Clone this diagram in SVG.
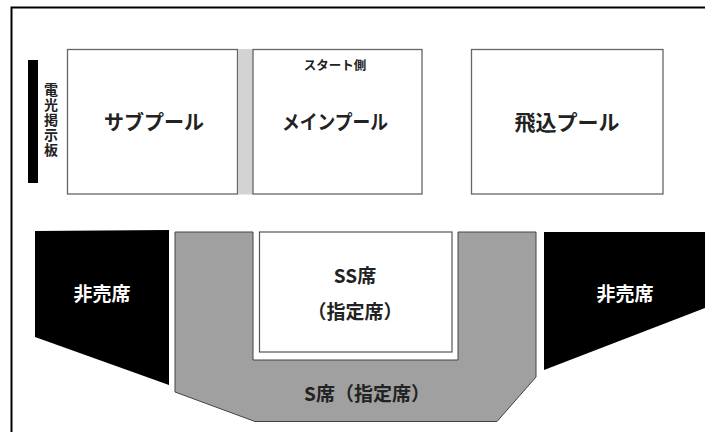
<svg xmlns="http://www.w3.org/2000/svg" width="705" height="432" viewBox="0 0 705 432">
<style>
text{font-family:"Noto Sans CJK JP","Noto Sans",sans-serif;font-weight:bold;fill:#222;}
.pool{fill:#fff;stroke:#666;stroke-width:1.3;}
.lbl{font-size:19px;text-anchor:middle;}
.wlbl{font-size:19px;text-anchor:middle;fill:#fff;}
</style>
<rect x="0" y="0" width="705" height="432" fill="#fff"/>
<path d="M11.5 432 V7.5 H705" fill="none" stroke="#000" stroke-width="2"/>
<g id="board">
<rect x="28" y="60" width="10" height="123" fill="#000"/>
<text x="51" y="83" font-size="14" style="writing-mode:vertical-rl;letter-spacing:1px">電光掲示板</text>
</g>
<g id="sub-pool">
<rect class="pool" x="67.5" y="49.5" width="170" height="144.5"/>
<text class="lbl" x="154" y="130" font-size="20" style="font-size:20px">サブプール</text>
</g>
<g id="strip">
<rect x="238" y="49" width="15" height="145.5" fill="#d3d3d3"/>
</g>
<g id="main-pool">
<rect class="pool" x="253" y="49.5" width="169" height="144.5"/>
<text x="335" y="70" font-size="12.5" text-anchor="middle">スタート側</text>
<text class="lbl" x="335" y="130" style="font-size:20px" textLength="106" lengthAdjust="spacingAndGlyphs">メインプール</text>
</g>
<g id="dive-pool">
<rect class="pool" x="471.5" y="49.5" width="191.5" height="144.5"/>
<text class="lbl" x="567" y="130" style="font-size:21px">飛込プール</text>
</g>
<g id="nonsale-left">
<polygon points="35,231 169,230 169,385 35,337" fill="#000"/>
<text class="wlbl" x="102" y="301">非売席</text>
</g>
<g id="s-seats">
<polygon points="175,232 253,232 253,360 458,360 458,232 536,232 536,377 497,421.5 255,421.5 175,392" fill="#a0a0a0" stroke="#444" stroke-width="1"/>
<text class="lbl" x="367" y="401">S席（指定席）</text>
</g>
<g id="ss-seats">
<rect x="259.5" y="232" width="192.5" height="120" fill="#fff" stroke="#555" stroke-width="1.2"/>
<text class="lbl" x="355" y="283">SS席</text>
<text class="lbl" x="355" y="319">（指定席）</text>
</g>
<g id="nonsale-right">
<polygon points="544,232 705,232 705,308 544,370" fill="#000"/>
<text class="wlbl" x="625" y="301">非売席</text>
</g>
<g id="connectors"></g>
</svg>
